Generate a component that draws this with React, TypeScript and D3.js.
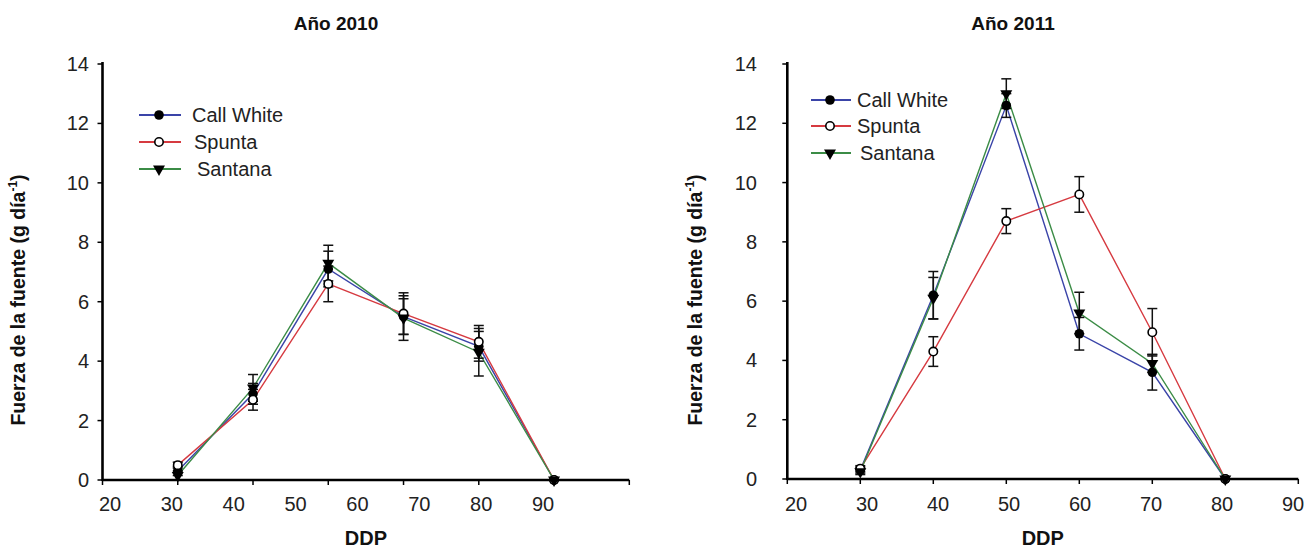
import React from "react";
import * as d3 from "d3";

// Days after planting (DDP) at which source strength was measured
const ddp = [30, 40, 50, 60, 70, 80];
const xTickValues = [20, 30, 40, 50, 60, 70, 80, 90];
const yTickValues = [0, 2, 4, 6, 8, 10, 12, 14];

const varieties = ["Call White", "Spunta", "Santana"];

// Source strength (g día-1), year 2010
const callWhite2010 = [0.3, 2.9, 7.1, 5.5, 4.5, 0];
const spunta2010 = [0.5, 2.7, 6.6, 5.6, 4.65, 0];
const santana2010 = [0.15, 3.1, 7.3, 5.45, 4.3, 0];
const callWhite2010Err = [0.15, 0.35, 0.6, 0.6, 0.5, 0];
const spunta2010Err = [0.1, 0.35, 0.6, 0.7, 0.55, 0];
const santana2010Err = [0.15, 0.45, 0.6, 0.75, 0.8, 0];

// Source strength (g día-1), year 2011
const callWhite2011 = [0.3, 6.2, 12.6, 4.9, 3.6, 0];
const spunta2011 = [0.35, 4.3, 8.7, 9.6, 4.95, 0];
const santana2011 = [0.25, 6.1, 13.0, 5.6, 3.9, 0];
const callWhite2011Err = [0.1, 0.8, 0.4, 0.55, 0.6, 0];
const spunta2011Err = [0.1, 0.5, 0.42, 0.6, 0.8, 0];
const santana2011Err = [0.1, 0.7, 0.5, 0.7, 0.3, 0];

const COLORS = ["#3a44a8", "#d63a40", "#3b8c46"];
const FONT = "'Liberation Sans', Arial, Helvetica, sans-serif";

type Series = { name: string; values: number[]; err: number[]; color: string; marker: string };

type PanelProps = {
  title: string;
  series: Series[];
  xRange: [number, number];
  labelRange: [number, number];
  yRange: [number, number];
  yLabelEnd: number;
  yTitleX: number;
  titleX: number;
  legend: { lineX: [number, number]; markX: number; textX: number[]; rows: number[] };
};

function Marker({ kind, x, y }: { kind: string; x: number; y: number }) {
  if (kind === "filled") return <circle cx={x} cy={y} r={4.8} fill="#000" />;
  if (kind === "open") return <circle cx={x} cy={y} r={4.2} fill="#fff" stroke="#000" strokeWidth={1.6} />;
  const tri = d3.symbol().type(d3.symbolTriangle).size(62)() as string;
  return <path d={tri} transform={`translate(${x},${y}) rotate(180)`} fill="#000" />;
}

function Panel(p: PanelProps) {
  const x = d3.scaleLinear().domain([20, 90]).range(p.xRange);
  const xLabel = d3.scaleLinear().domain([20, 90]).range(p.labelRange);
  const y = d3.scaleLinear().domain([0, 14]).range(p.yRange);
  const line = d3
    .line<number>()
    .x((_, i) => x(ddp[i]))
    .y((d) => y(d));
  const y0 = y(0);
  const xMid = (p.xRange[0] + p.xRange[1]) / 2;
  const yMid = 300;

  return (
    <g fontFamily={FONT}>
      <text x={p.titleX} y={30} textAnchor="middle" fontSize={19} fontWeight="bold" fill="#111">
        {p.title}
      </text>

      {/* data lines */}
      {p.series.map((s) => (
        <path key={s.name} d={line(s.values) as string} fill="none" stroke={s.color} strokeWidth={1.4} />
      ))}

      {/* error bars */}
      {p.series.map((s) =>
        s.values.map((v, i) =>
          s.err[i] > 0 ? (
            <g key={s.name + i} stroke="#111" strokeWidth={1.5}>
              <line x1={x(ddp[i])} x2={x(ddp[i])} y1={y(v + s.err[i])} y2={y(v - s.err[i])} />
              <line x1={x(ddp[i]) - 5} x2={x(ddp[i]) + 5} y1={y(v + s.err[i])} y2={y(v + s.err[i])} />
              <line x1={x(ddp[i]) - 5} x2={x(ddp[i]) + 5} y1={y(v - s.err[i])} y2={y(v - s.err[i])} />
            </g>
          ) : null
        )
      )}

      {/* markers */}
      {p.series.map((s) =>
        s.values.map((v, i) => <Marker key={s.name + "m" + i} kind={s.marker} x={x(ddp[i])} y={y(v)} />)
      )}

      {/* axes */}
      <line x1={p.xRange[0]} x2={p.xRange[1]} y1={y0} y2={y0} stroke="#000" strokeWidth={2.6} />
      <line x1={p.xRange[0]} x2={p.xRange[0]} y1={y0 + 1} y2={y(14) - 2} stroke="#000" strokeWidth={2.6} />
      {xTickValues.map((t) => (
        <g key={"xt" + t}>
          <line x1={x(t)} x2={x(t)} y1={y0} y2={y0 + 5} stroke="#000" strokeWidth={1.5} />
          <text x={xLabel(t)} y={511} textAnchor="middle" fontSize={20} fill="#222">
            {t}
          </text>
        </g>
      ))}
      {yTickValues.map((t) => (
        <g key={"yt" + t}>
          <line x1={p.xRange[0] - 5} x2={p.xRange[0]} y1={y(t)} y2={y(t)} stroke="#000" strokeWidth={1.5} />
          <text x={p.yLabelEnd} y={y(t) + 7} textAnchor="end" fontSize={20} fill="#222">
            {t}
          </text>
        </g>
      ))}

      <text x={xMid} y={545} textAnchor="middle" fontSize={20} fontWeight="bold" fill="#111">
        DDP
      </text>
      <text
        transform={`translate(${p.yTitleX},${yMid}) rotate(-90)`}
        textAnchor="middle"
        fontSize={19.5}
        fontWeight="bold"
        fill="#111"
      >
        Fuerza de la fuente (g día
        <tspan fontSize={12} dy={-8}>
          -1
        </tspan>
        <tspan dy={8}>)</tspan>
      </text>

      {/* legend */}
      {p.series.map((s, i) => (
        <g key={"lg" + s.name}>
          <line
            x1={p.legend.lineX[0]}
            x2={p.legend.lineX[1]}
            y1={p.legend.rows[i]}
            y2={p.legend.rows[i]}
            stroke={s.color}
            strokeWidth={2}
          />
          <Marker kind={s.marker} x={p.legend.markX} y={p.legend.rows[i]} />
          <text x={p.legend.textX[i]} y={p.legend.rows[i] + 7} fontSize={20} fill="#222">
            {s.name}
          </text>
        </g>
      ))}
    </g>
  );
}

const markers = ["filled", "open", "triangle"];

function makeSeries(values: number[][], errs: number[][]): Series[] {
  return varieties.map((name, i) => ({ name, values: values[i], err: errs[i], color: COLORS[i], marker: markers[i] }));
}

export default function App() {
  const s2010 = makeSeries(
    [callWhite2010, spunta2010, santana2010],
    [callWhite2010Err, spunta2010Err, santana2010Err]
  );
  const s2011 = makeSeries(
    [callWhite2011, spunta2011, santana2011],
    [callWhite2011Err, spunta2011Err, santana2011Err]
  );
  return (
    <svg
      width={1314}
      height={549}
      style={{ position: "absolute", left: 0, top: 0, background: "#fff" }}
    >
      <rect width={1314} height={549} fill="#fff" />
      <Panel
        title="Año 2010"
        series={s2010}
        xRange={[102.5, 629.3]}
        labelRange={[110, 543]}
        yRange={[480, 64]}
        yLabelEnd={89}
        yTitleX={25}
        titleX={336}
        legend={{ lineX: [139, 181], markX: 159, textX: [192, 194, 197], rows: [115, 142, 169] }}
      />
      <Panel
        title="Año 2011"
        series={s2011}
        xRange={[787.3, 1298.3]}
        labelRange={[796, 1293]}
        yRange={[479, 64]}
        yLabelEnd={757}
        yTitleX={702}
        titleX={1013}
        legend={{ lineX: [811, 851], markX: 830, textX: [857, 857, 860], rows: [100, 126, 153] }}
      />
    </svg>
  );
}
